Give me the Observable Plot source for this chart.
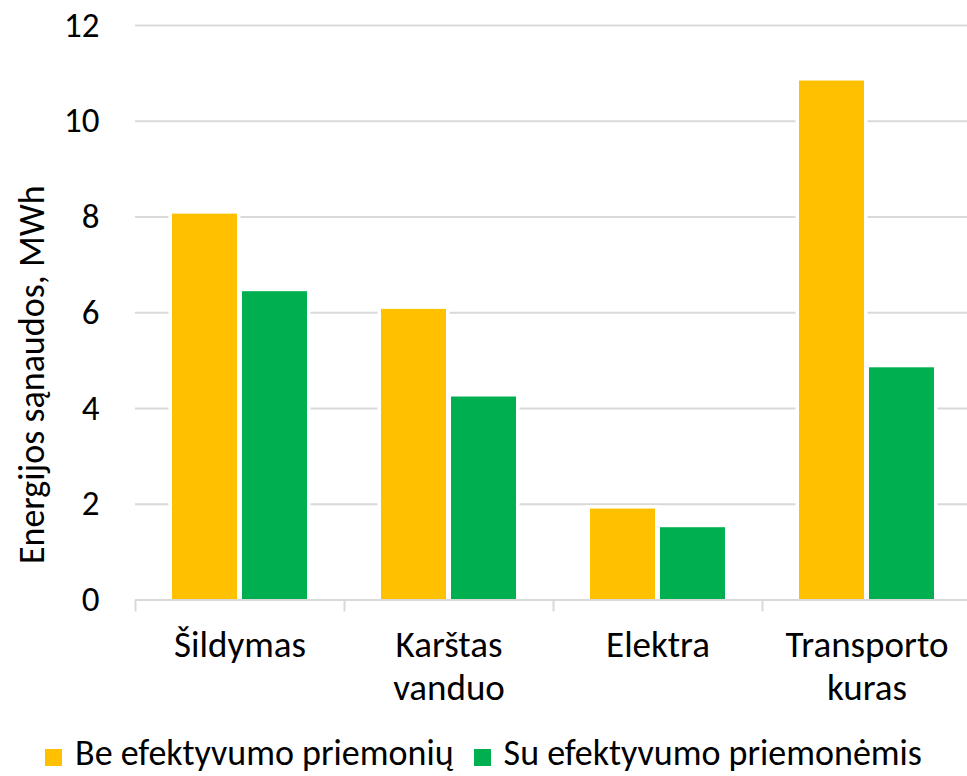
<!DOCTYPE html>
<html>
<head>
<meta charset="utf-8">
<script src="https://cdn.jsdelivr.net/npm/d3@7"></script>
<script src="https://cdn.jsdelivr.net/npm/@observablehq/plot@0.6"></script>
<style>
  html, body { margin: 0; padding: 0; background: #fff; overflow: hidden; }
  body { width: 967px; height: 776px; font-family: Carlito, Calibri, Lato, sans-serif; }
  #legend { position: absolute; left: 0; top: 731px; width: 967px; display: flex; justify-content: center; gap: 20px; font-size: 36px; line-height: 44px; height: 44px; color: #000; white-space: nowrap; }
  #legend .item { display: flex; align-items: center; }
  #legend .sw { width: 17px; height: 17px; margin-right: 13px; margin-top: 8px; }
</style>
</head>
<body>
<div id="chart"></div>
<div id="legend"></div>
<script>
const categories = ["Šildymas", "Karštas vanduo", "Elektra", "Transporto kuras"];
const categoryLabels = ["Šildymas", "Karštas\nvanduo", "Elektra", "Transporto\nkuras"];
const seriesNames = ["Be efektyvumo priemonių", "Su efektyvumo priemonėmis"];
const beValues = [8.06, 6.07, 1.90, 10.84];
const suValues = [6.44, 4.24, 1.51, 4.85];
const yTicks = [0, 2, 4, 6, 8, 10, 12];
const colors = ["#FFC000", "#00B050"];

const rows = [];
categories.forEach((c, i) => {
  rows.push({category: c, series: seriesNames[0], value: beValues[i]});
  rows.push({category: c, series: seriesNames[1], value: suValues[i]});
});
const labelOf = new Map(categories.map((c, i) => [c, categoryLabels[i]]));

const W = 967, H = 731;
const font = "Carlito, Calibri, Lato, sans-serif";

const plot = Plot.plot({
  width: W,
  height: H,
  marginLeft: 135,
  marginRight: 0,
  marginTop: 25,
  marginBottom: H - 599.5,
  style: {fontFamily: font, background: "white", color: "#000"},
  x: {domain: categories, range: [135, 971], padding: 0},
  y: {domain: [0, 12], ticks: yTicks},
  color: {domain: seriesNames, range: colors},
  marks: [
    Plot.gridY(yTicks.filter(d => d > 0), {stroke: "#d9d9d9", strokeOpacity: 1, strokeWidth: 2}),
    Plot.barY(rows.filter(d => d.series === seriesNames[0]), {
      x: "category", y: "value", fill: "series",
      insetLeft: 37, insetRight: 107,
      stroke: "white", strokeWidth: 7, paintOrder: "stroke"
    }),
    Plot.barY(rows.filter(d => d.series === seriesNames[1]), {
      x: "category", y: "value", fill: "series",
      insetLeft: 107, insetRight: 37,
      stroke: "white", strokeWidth: 7, paintOrder: "stroke"
    }),
    Plot.ruleY([0], {stroke: "#d9d9d9", strokeWidth: 2}),
    Plot.ruleX(categories, {x: d => d, y1: 0, y2: 0, insetBottom: -12, dx: -104.5, stroke: "#d9d9d9", strokeWidth: 2}),
    Plot.axisY(yTicks, {tickSize: 0, tickPadding: 36, fontSize: 35, label: null}),
    Plot.axisX({tickSize: 0, tickPadding: 27, fontSize: 37, lineHeight: 1.15, label: null, tickFormat: d => labelOf.get(d)}),
    Plot.text(["Energijos sąnaudos, MWh"], {frameAnchor: "left", textAnchor: "middle", dx: -103, dy: 62, rotate: -90, fontSize: 36})
  ]
});
document.getElementById("chart").appendChild(plot);

const legend = document.getElementById("legend");
seriesNames.forEach((s, i) => {
  const item = document.createElement("div");
  item.className = "item";
  const sw = document.createElement("span");
  sw.className = "sw";
  sw.style.background = colors[i];
  const t = document.createElement("span");
  t.textContent = s;
  item.appendChild(sw);
  item.appendChild(t);
  legend.appendChild(item);
});
</script>
</body>
</html>
